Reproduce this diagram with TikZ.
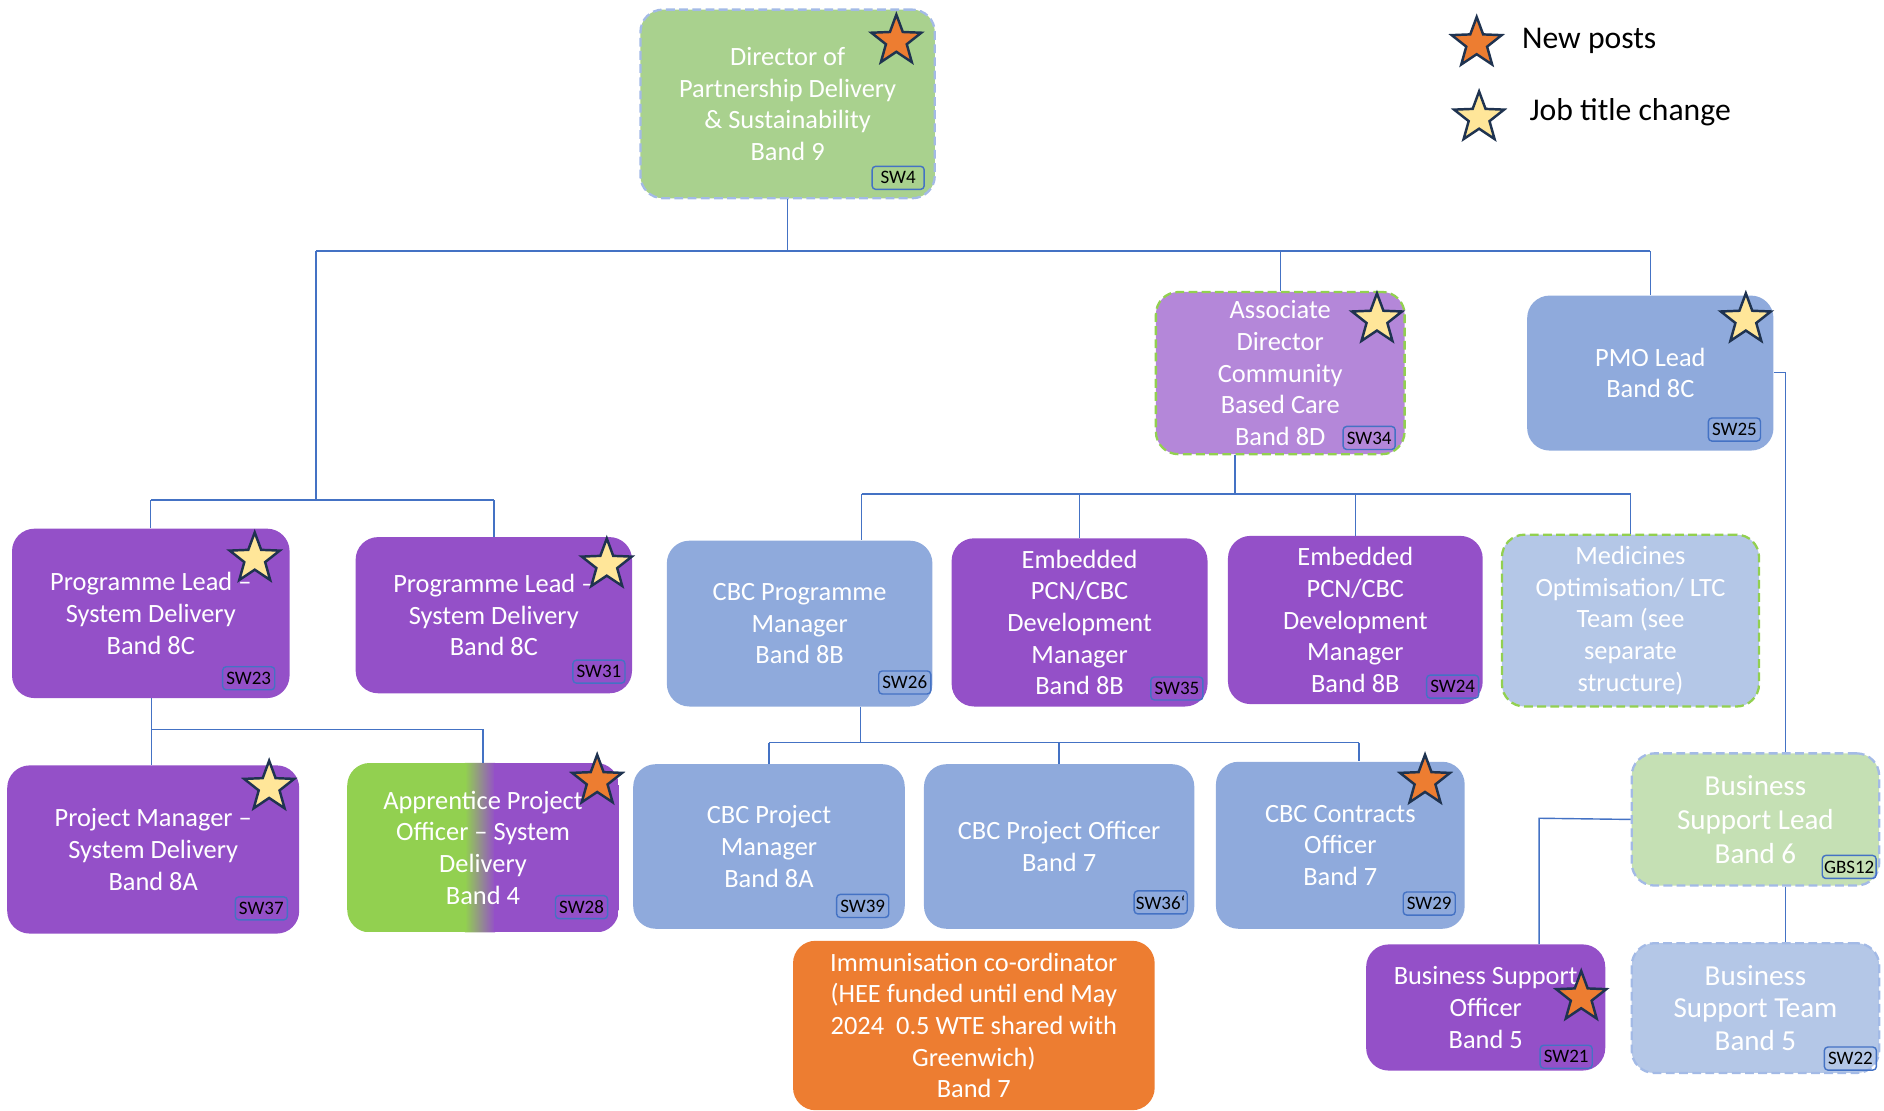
\documentclass[tikz,border=0pt]{standalone}
\usepackage{fontspec}
\setmainfont{Carlito}
\usetikzlibrary{positioning}
\usetikzlibrary{shapes.geometric}

\definecolor{purp}{HTML}{9450C8}
\definecolor{lilac}{HTML}{B487D9}
\definecolor{blu}{HTML}{8FAADC}
\definecolor{paleblu}{HTML}{B4C7E7}
\definecolor{sage}{HTML}{A9D18E}
\definecolor{palesage}{HTML}{C5E0B4}
\definecolor{lime}{HTML}{92D050}
\definecolor{orng}{HTML}{ED7D31}
\definecolor{linkblue}{HTML}{4472C4}
\definecolor{dashblue}{HTML}{A3BAE6}
\definecolor{navy}{HTML}{1F3350}
\definecolor{cream}{HTML}{FFE699}

\newcommand{\px}{0.024cm}

\begin{document}
\begin{tikzpicture}[x=0.024cm,y=-0.024cm,
post/.style={rounded corners=0.45cm,text=white,align=center,inner sep=0pt,font=\fontsize{15}{18}\selectfont},
boxsize/.style 2 args={minimum width=#1*\px,minimum height=#2*\px},
edged/.style={draw=#1,dash pattern=on 5pt off 2.5pt,line width=1.3pt},
tag/.style={draw=linkblue,line width=0.8pt,rounded corners=2pt,text=black,minimum width=1.04cm,minimum height=0.46cm,inner sep=1pt,font=\fontsize{10.8}{12}\selectfont},
newstar/.style={star,star points=5,star point ratio=2.4,minimum size=1.05cm,inner sep=0pt,draw=navy,line width=1.4pt,fill=orng},
titlestar/.style={newstar,fill=cream},
legtext/.style={text=black,font=\fontsize{18}{21}\selectfont},
link/.style={draw=linkblue,line width=0.8pt}]
\useasboundingbox (0,0) rectangle (1568,924);

\node[post,fill=sage,edged=dashblue,boxsize={245}{157}] (dir) at (655.5,86.5) {Director of\\Partnership Delivery\\\& Sustainability\\Band 9};

\node[post,fill=purp,boxsize={231}{141}] (pl1) at (125.5,510.5) {Programme Lead –\\System Delivery\\Band 8C};
\node[post,fill=purp,boxsize={230}{130}] (pl2) at (411,512) {Programme Lead –\\System Delivery\\Band 8C};
\node[post,fill=purp,boxsize={243}{140}] (pmsd) at (127.5,707) {Project Manager –\\System Delivery\\Band 8A};
\node[post,boxsize={226}{141},path picture={
  \fill[lime,sharp corners] (path picture bounding box.north west) rectangle ([xshift=99*\px]path picture bounding box.south west);
  \shade[left color=lime,right color=purp,sharp corners] ([xshift=98*\px]path picture bounding box.north west) rectangle ([xshift=123*\px]path picture bounding box.south west);
  \fill[purp,sharp corners] ([xshift=122*\px]path picture bounding box.north west) rectangle (path picture bounding box.south east);}]
  (apo) at (402,705.5) {Apprentice Project\\Officer – System\\Delivery\\Band 4};

\node[post,fill=lilac,edged=lime,boxsize={207}{135}] (adcbc) at (1065.5,310.5) {Associate\\Director\\Community\\Based Care\\Band 8D};
\node[post,fill=blu,boxsize={205}{129}] (pmo) at (1373.5,310.5) {PMO Lead\\Band 8C};

\node[post,fill=blu,boxsize={221}{138}] (cbcpm) at (665.5,519) {CBC Programme\\Manager\\Band 8B};
\node[post,fill=purp,boxsize={213}{140}] (epcn1) at (898.5,518) {Embedded\\PCN/CBC\\Development\\Manager\\Band 8B};
\node[post,fill=purp,boxsize={212}{140}] (epcn2) at (1128,516) {Embedded\\PCN/CBC\\Development\\Manager\\Band 8B};
\node[post,fill=paleblu,edged=lime,boxsize={214}{143}] (medopt) at (1357,516.5) {Medicines\\Optimisation/ LTC\\Team (see\\separate\\structure)};

\node[post,fill=blu,boxsize={226}{137}] (cbcprm) at (640,704.5) {CBC Project\\Manager\\Band 8A};
\node[post,fill=blu,boxsize={225}{137}] (cbcpo) at (881.5,704.5) {CBC Project Officer\\Band 7};
\node[post,fill=blu,boxsize={207}{139}] (cbcco) at (1115.5,703.5) {CBC Contracts\\Officer\\Band 7};
\node[post,fill=orng,boxsize={301}{141}] (immu) at (810.5,853.5) {Immunisation co-ordinator\\(HEE funded until end May\\2024\ \ 0.5 WTE shared with\\Greenwich)\\Band 7};

\node[post,fill=palesage,edged=dashblue,boxsize={206}{110},font=\fontsize{16.5}{19.5}\selectfont] (bsl) at (1461,682) {Business\\Support Lead\\Band 6};
\node[post,fill=purp,boxsize={199}{105}] (bso) at (1236.5,838.5) {Business Support\\Officer\\Band 5};
\node[post,fill=paleblu,edged=dashblue,boxsize={206}{108},font=\fontsize{16.5}{18.5}\selectfont] (bst) at (1461,839) {Business\\Support Team\\Band 5};

% position codes
\node[tag] (sw4) at (747.5,148) {SW4};
\node[tag] (sw23) at (207,564.5) {SW23};
\node[tag] (sw31) at (498.5,559) {SW31};
\node[tag] (sw37) at (217.5,756) {SW37};
\node[tag] (sw28) at (484,755) {SW28};
\node[tag] (sw34) at (1139.5,364.5) {SW34};
\node[tag] (sw25) at (1443.5,357.5) {SW25};
\node[tag] (sw26) at (753,568) {SW26};
\node[tag] (sw35) at (979.5,573) {SW35};
\node[tag] (sw24) at (1209,571.5) {SW24};
\node[tag] (sw39) at (718,754) {SW39};
\node[tag] (sw36) at (966,751) {SW36`};
\node[tag] (sw29) at (1189.5,752) {SW29};
\node[tag] (gbs12) at (1539,721.5) {GBS12};
\node[tag] (sw21) at (1303.5,879.5) {SW21};
\node[tag] (sw22) at (1540,881) {SW22};

% stars
\node[newstar] (dirstar) at (746,34) {};
\node[titlestar] (pl1star) at (212,465) {};
\node[titlestar] (pl2star) at (505,470) {};
\node[titlestar] (pmsdstar) at (224,655) {};
\node[newstar] (apostar) at (497,650) {};
\node[titlestar] (adstar) at (1146,266) {};
\node[titlestar] (pmostar) at (1453,266) {};
\node[newstar] (cbccostar) at (1186,650) {};
\node[newstar] (bsostar) at (1316,830) {};

\node[newstar] (legnew) at (1229,36) {};
\node[titlestar] (legtitle) at (1231,98) {};
\node[legtext,right=0.45cm of legnew,yshift=0.05cm] (newtxt) {New posts};
\node[legtext,right=0.55cm of legtitle,yshift=0.12cm] (titletxt) {Job title change};

\coordinate (topbus) at (655,209);
\coordinate (leftdrop) at (263,209);
\coordinate (leftbus) at (263,416);
\coordinate (adbus) at (1028,411);
\coordinate (cbcdrop) at (717,411);
\coordinate (cobus) at (716,618);
\coordinate (codrop) at (1131,618);
\coordinate (sdbus) at (126,607);
\coordinate (pmoelbow) at (1486,310);
\coordinate (bsoelbow) at (1281,681);

\draw[link] (dir) -- (dir |- topbus);
\draw[link] (leftdrop) -- (pmo |- topbus);
\draw[link] (leftdrop) -- (leftbus);
\draw[link] (pl1 |- leftbus) -- (pl2 |- leftbus);
\draw[link] (pl1) -- (pl1 |- leftbus);
\draw[link] (pl2) -- (pl2 |- leftbus);
\draw[link] (adcbc) -- (adcbc |- topbus);
\draw[link] (pmo) -- (pmo |- topbus);

\draw[link] (adbus |- adcbc.south) -- (adbus);
\draw[link] (cbcdrop) -- (medopt |- adbus);
\draw[link] (cbcdrop) -- (cbcdrop |- cbcpm.north);
\draw[link] (epcn1) -- (epcn1 |- adbus);
\draw[link] (epcn2) -- (epcn2 |- adbus);
\draw[link] (medopt) -- (medopt |- adbus);

\draw[link] (cobus |- cbcpm.south) -- (cobus);
\draw[link] (cbcprm |- cobus) -- (codrop);
\draw[link] (cbcprm) -- (cbcprm |- cobus);
\draw[link] (cbcpo) -- (cbcpo |- cobus);
\draw[link] (codrop) -- (codrop |- cbcco.north);

\draw[link] (sdbus |- pl1.south) -- (sdbus |- pmsd.north);
\draw[link] (sdbus) -- (apo |- sdbus) -- (apo);

\draw[link] (pmo.east |- pmoelbow) -- (pmoelbow) -- (pmoelbow |- bsl.north);
\draw[link] (bsl.south -| pmoelbow) -- (bst.north -| pmoelbow);
\draw[link] (bsl.west) -- (bsoelbow) -- (bsoelbow |- bso.north);

\end{tikzpicture}
\end{document}
